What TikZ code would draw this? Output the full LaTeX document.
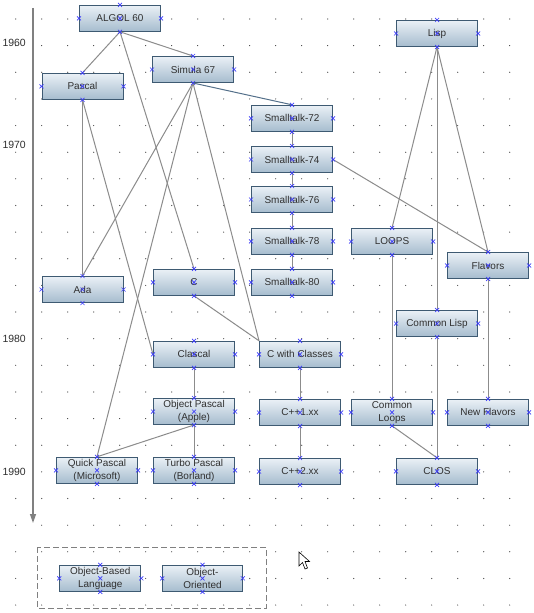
\documentclass[tikz,border=0pt]{standalone}
\usepackage{fontspec}
\setmainfont{Liberation Sans}
\usetikzlibrary{arrows.meta}
\definecolor{cBoxTop} {RGB}{234,240,246}
\definecolor{cBoxBot} {RGB}{166,188,206}
\definecolor{cBoxLine}{RGB}{62,90,114}
\definecolor{cPort}   {RGB}{60,60,250}
\definecolor{cLink}   {RGB}{140,140,140}
\definecolor{cLinkB}  {RGB}{84,112,138}
\definecolor{cText}   {RGB}{48,48,48}
\tikzset{
  >={Triangle[length=9bp,width=6bp]},
  lang/.style={draw=cBoxLine,line width=1bp,top color=cBoxTop,bottom color=cBoxBot,
               minimum width=81bp,minimum height=26bp,inner sep=0pt,align=center,
               font=\fontsize{10}{13}\selectfont,text=cText},
  year/.style={anchor=east,inner sep=0pt,font=\fontsize{10.5}{12}\selectfont,text=cText},
  link/.style={-,cLink,line width=1bp},
  linkB/.style={link,cLinkB},                      % the highlighted Simula edge
  port/.style={cPort,line width=0.7bp},            % connection marker
  griddot/.style={fill=black!75},
  grp/.style={draw=black!50,line width=1bp,dash pattern=on 6bp off 3bp},
  axis/.style={->,black!50,line width=1.3bp},
}
\begin{document}
\begin{tikzpicture}[x=1bp,y=-1bp]
  \useasboundingbox[fill=white] (0,0) rectangle (534,613);
  % background grid
  \foreach \i in {0,...,19}
    \foreach \j in {0,...,22}
      \fill[griddot] (15.7+26*\i,19+26.64*\j) circle[radius=0.6bp];

  % time axis
  \coordinate (ttop) at (33,8);
  \coordinate (tend) at (33,523);
  \draw[axis] (ttop) -- (tend);
  \node[year] (y60) at (26,43)  {1960};
  \node[year] (y70) at (26,145) {1970};
  \node[year] (y80) at (26,339) {1980};
  \node[year] (y90) at (26,472) {1990};

  % languages
  \node[lang] (algol)  at (120,18.3)  {ALGOL 60};
  \node[lang] (simula) at (193,69.5)  {Simula 67};
  \node[lang] (pascal) at (82.5,86.3) {Pascal};
  \node[lang] (st72)   at (292,118.3) {Smalltalk-72};
  \node[lang] (st74)   at (292,159.5) {Smalltalk-74};
  \node[lang] (st76)   at (292,199.5) {Smalltalk-76};
  \node[lang] (st78)   at (292,241.3) {Smalltalk-78};
  \node[lang] (st80)   at (292,282.3) {Smalltalk-80};
  \node[lang] (clang)  at (194,282.3) {C};
  \node[lang] (ada)    at (82.5,289.5){Ada};
  \node[lang] (clascal)at (194,354.3) {Clascal};
  \node[lang] (cwc)    at (300,354.3) {C with Classes};
  \node[lang] (objpas) at (194,411.5) {Object Pascal\\(Apple)};
  \node[lang] (cpp1)   at (300,412.5) {C++1.xx};
  \node[lang] (quick)  at (97,470.3)  {Quick Pascal\\(Microsoft)};
  \node[lang] (turbo)  at (194,470.3) {Turbo Pascal\\(Borland)};
  \node[lang] (cpp2)   at (300,471.5) {C++2.xx};
  \node[lang] (lisp)   at (437,33.5)  {Lisp};
  \node[lang] (loops)  at (392,241.5) {LOOPS};
  \node[lang] (flavors)at (488,265.5) {Flavors};
  \node[lang] (cl)     at (437,323.5) {Common Lisp};
  \node[lang] (cloops) at (392,412.3) {Common\\Loops};
  \node[lang] (newfl)  at (488,412.3) {New Flavors};
  \node[lang] (clos)   at (437,471.3) {CLOS};

  % legend
  \draw[grp] (37,547) rectangle (266,608);
  \node[lang] (objbased) at (100.3,578.3) {Object-Based\\Language};
  \node[lang,minimum width=79.6bp] (objor) at (202.5,578.3) {Object-\\Oriented};

  % influences
  \draw[link] (algol.south) -- (pascal.north);
  \draw[link] (algol.south) -- (simula.north);
  \draw[link] (algol.south) -- (clang.north);
  \draw[linkB](simula.south) -- (st72.north);
  \draw[link] (simula.south) -- (ada.north);
  \draw[link] (simula.south) -- (quick.north);
  \draw[link] (simula.south) -- (cwc.north west);
  \draw[link] (pascal.south) -- (ada.north);
  \draw[link] (pascal.south) -- (clascal.west);
  \draw[link] (st72.south) -- (st74.north);
  \draw[link] (st74.south) -- (st76.north);
  \draw[link] (st76.south) -- (st78.north);
  \draw[link] (st78.south) -- (st80.north);
  \draw[link] (st74.east) -- (flavors.north);
  \draw[link] (clang.south) -- (cwc.north west);
  \draw[link] (clascal.south) -- (objpas.north);
  \draw[link] (objpas.south) -- (turbo.north);
  \draw[link] (objpas.south) -- (quick.north);
  \draw[link] (cwc.south) -- (cpp1.north);
  \draw[link] (cpp1.south) -- (cpp2.north);
  \draw[link] (lisp.south) -- (loops.north);
  \draw[link] (lisp.south) -- (cl.north);
  \draw[link] (lisp.south) -- (flavors.north);
  \draw[link] (loops.south) -- (cloops.north);
  \draw[link] (flavors.south) -- (newfl.north);
  \draw[link] (cl.south) -- (clos.north);
  \draw[link] (cloops.south) -- (clos.north);

  % connection markers on every box
  \foreach \n in {algol,simula,pascal,st72,st74,st76,st78,st80,clang,ada,clascal,cwc,
                  objpas,cpp1,quick,turbo,cpp2,lisp,loops,flavors,cl,cloops,newfl,clos,
                  objbased,objor}
    \foreach \a in {north,south,east,west,center}
      \draw[port] (\n.\a) +(-2,-2) -- +(2,2) +(-2,2) -- +(2,-2);

  % mouse pointer
  \draw[fill=white,line width=0.6bp,line join=miter]
    (299,552) -- (299,566) -- (302.5,562.5) -- (305,569) -- (307.5,568) -- (305,561.5) -- (309.5,561.5) -- cycle;
\end{tikzpicture}
\end{document}
